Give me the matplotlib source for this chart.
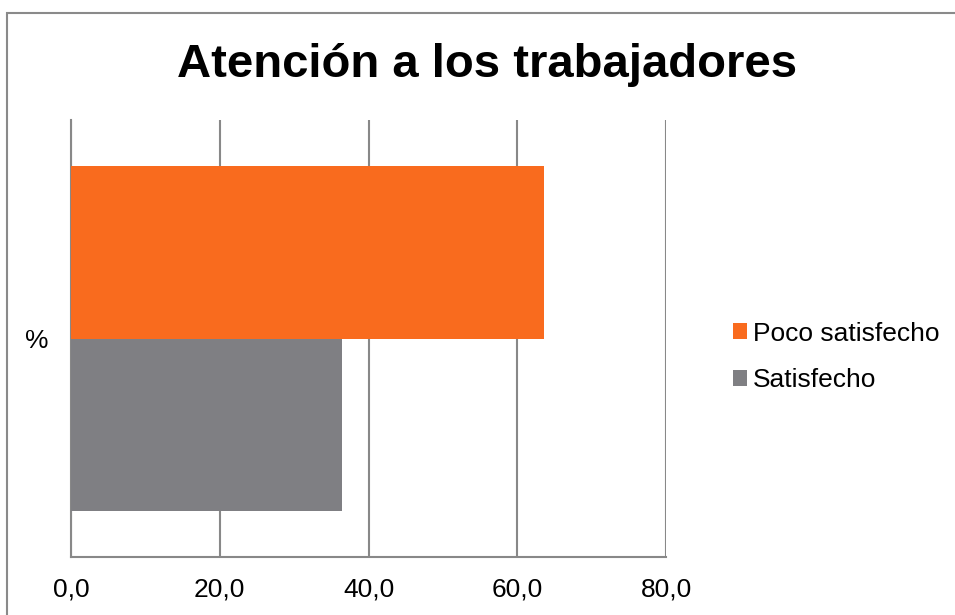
import matplotlib
matplotlib.use("Agg")
import matplotlib.pyplot as plt
from matplotlib.ticker import FuncFormatter, FixedLocator
from matplotlib.patches import Rectangle

plt.rcParams['font.family'] = ['Liberation Sans', 'DejaVu Sans']

# Data
categories = ['%']
series_names = ['Poco satisfecho', 'Satisfecho']
series_values = [[63.6], [36.4]]
series_colors = ['#F96B1E', '#7F7F83']
x_ticks = [0, 20, 40, 60, 80]
title = 'Atención a los trabajadores'

W, H = 955, 615
fig = plt.figure(figsize=(W / 100, H / 100), dpi=100)
ax = fig.add_axes([71 / W, 1 - 557 / H, 595 / W, 437 / H])

bar_h = 1.0
n = len(series_names)
handles = []
for i, (name, vals, col) in enumerate(zip(series_names, series_values, series_colors)):
    offset = (n - 1) / 2 - i  # first series on top
    ys = [c_i + offset * bar_h for c_i in range(len(categories))]
    b = ax.barh(ys, vals, height=bar_h, color=col, label=name, zorder=3)
    handles.append(b)

ax.set_xlim(x_ticks[0], x_ticks[-1])
ax.set_ylim(-1.27, 1.27)
ax.xaxis.set_major_locator(FixedLocator(x_ticks))
ax.xaxis.set_major_formatter(FuncFormatter(lambda v, p: f"{v:.1f}".replace('.', ',')))
ax.set_yticks(range(len(categories)))
ax.set_yticklabels(categories)

grid_c = '#888888'
ax.grid(axis='x', color=grid_c, linewidth=1.5, zorder=0)
ax.grid(axis='y', visible=False)
ax.set_axisbelow(True)
for s in ['top', 'right']:
    ax.spines[s].set_visible(False)
for s in ['left', 'bottom']:
    ax.spines[s].set_color(grid_c)
    ax.spines[s].set_linewidth(1.5)
ax.tick_params(axis='x', length=0, pad=15, labelsize=19, labelcolor='black')
ax.tick_params(axis='y', length=0, pad=16, labelsize=19, labelcolor='black')

fig.text(487 / W, 1 - 77 / H, title, ha='center', va='baseline',
         fontsize=34, fontweight='bold')

fig.legend(handles=handles, labels=series_names, loc='center left',
           bbox_to_anchor=(733 / W, 1 - 357 / H), frameon=False,
           fontsize=19, handlelength=0.54, handleheight=0.54,
           handletextpad=0.23, labelspacing=0.87, borderpad=0,
           borderaxespad=0)

fig.patches.append(Rectangle((7 / W, -0.05), 1.0, 1.05 - 13 / H,
                             transform=fig.transFigure, fill=False,
                             edgecolor='#8a8a8a', linewidth=1.5))

fig.savefig('out.png', dpi=100)
